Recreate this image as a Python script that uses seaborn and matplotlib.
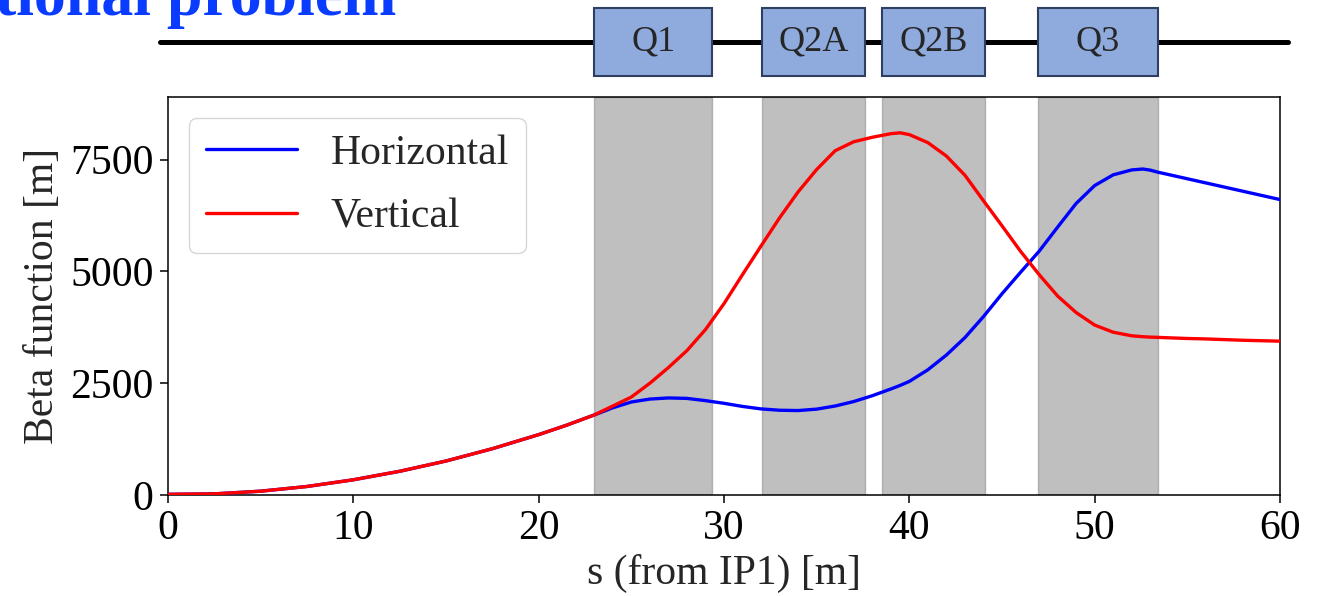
import pandas as pd
import matplotlib.pyplot as plt
import seaborn as sns
from matplotlib.patches import Rectangle

# Beta functions (s in m, beta in m)
s_pos = [0, 2.5, 5, 7.5, 10, 12.5, 15, 17.5, 20, 21.5, 23, 24, 25, 26, 27, 28, 29, 30,
         31, 32, 33, 34, 35, 36, 37, 38, 39, 39.5, 40, 41, 42, 43, 44, 45, 46, 47, 48,
         49, 50, 51, 52, 52.6, 53, 53.4, 54, 55, 56, 57, 58, 59, 60]
beta_v = [15, 25, 85, 190, 340, 530, 760, 1035, 1350, 1560, 1790, 1990, 2190, 2500,
          2850, 3230, 3700, 4280, 4930, 5570, 6200, 6780, 7280, 7700, 7900, 8000, 8080,
          8100, 8060, 7880, 7580, 7150, 6580, 6020, 5450, 4930, 4450, 4080, 3800, 3640,
          3560, 3540, 3530, 3525, 3515, 3500, 3490, 3475, 3460, 3450, 3440]
beta_h = [15, 25, 85, 190, 340, 530, 760, 1035, 1350, 1560, 1790, 1950, 2080, 2145,
          2170, 2160, 2110, 2050, 1980, 1925, 1895, 1888, 1920, 1990, 2090, 2220, 2370,
          2450, 2540, 2800, 3130, 3520, 3990, 4500, 4980, 5450, 5990, 6520, 6920, 7160,
          7270, 7290, 7265, 7220, 7165, 7072, 6979, 6886, 6793, 6700, 6607]

# Quadrupoles
quad_names = ["Q1", "Q2A", "Q2B", "Q3"]
quad_start = [23.0, 32.05, 38.5, 46.95]
quad_end = [29.35, 37.6, 44.1, 53.4]

df = pd.DataFrame({
    "s": s_pos * 2,
    "beta": beta_h + beta_v,
    "plane": ["Horizontal"] * len(s_pos) + ["Vertical"] * len(s_pos),
})

sns.set_style("ticks", {"axes.edgecolor": "black", "xtick.color": "black",
                        "ytick.color": "black"})
plt.rcParams["font.family"] = ["Liberation Serif", "DejaVu Serif"]

fs = 30
fig = plt.figure(figsize=(13.17, 5.96), dpi=100)
ax = fig.add_axes([0.1276, 0.1695, 0.8443, 0.6677])

for a, b in zip(quad_start, quad_end):
    ax.axvspan(a, b, color="gray", alpha=0.5, zorder=0)

sns.lineplot(data=df, x="s", y="beta", hue="plane",
             palette={"Horizontal": "blue", "Vertical": "red"},
             linewidth=2.4, ax=ax, zorder=3)

ax.set_xlim(0, 60)
ax.set_ylim(0, 8900)
ax.set_xticks([0, 10, 20, 30, 40, 50, 60])
ax.set_yticks([0, 2500, 5000, 7500])
ax.tick_params(labelsize=fs, length=5.5, width=1.1, pad=5)
for sp in ax.spines.values():
    sp.set_linewidth(1.1)
ax.set_xlabel("s (from IP1) [m]", fontsize=fs, labelpad=4)
ax.set_ylabel("Beta function [m]", fontsize=fs, labelpad=6)
ax.legend(loc="upper left", fontsize=fs, title=None, frameon=True,
          handlelength=2.2, labelspacing=0.6)

# Lattice schematic above the plot
axq = fig.add_axes([0.1276, 0.8725, 0.8443, 0.1141], sharex=ax)
axq.set_ylim(0, 1)
axq.axis("off")
axq.plot([-0.45, 60.45], [0.5, 0.5], color="black", linewidth=3.6,
         clip_on=False, zorder=1)
for name, a, b in zip(quad_names, quad_start, quad_end):
    axq.add_patch(Rectangle((a, 0), b - a, 1, facecolor="#8FAADC",
                            edgecolor="#2F3F62", linewidth=1.5, zorder=2,
                            clip_on=False))
    axq.text((a + b) / 2, 0.5, name, ha="center", va="center", fontsize=26,
             zorder=3)
ax.set_xlim(0, 60)

# Cut-off slide title
fig.text(-0.004, 1 - 15 / 596, "tional problem", color="#0A3CFF", fontsize=46,
         fontweight="bold", ha="left", va="baseline")

plt.savefig("out.png", dpi=100)
